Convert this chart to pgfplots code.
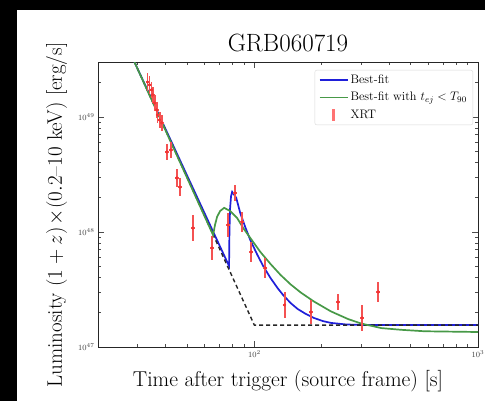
\RequirePackage{fix-cm}
\documentclass[border=0pt]{standalone}
\usepackage{pgfplots}
\usepackage{pgfplotstable}
\pgfplotsset{compat=1.18}
\definecolor{mblue}{rgb}{0.12,0.12,0.85}
\definecolor{mgreen}{rgb}{0.28,0.6,0.28}
\definecolor{mred}{rgb}{0.95,0.2,0.2}

\pgfplotstableread{
t      L      ep     em
33.3   201    39.8   33.2
34.0   190    37.6   31.4
34.7   172    29.9   25.5
35.1   155    27.0   22.9
35.8   132    23.0   19.5
36.6   115    20.0   17.0
36.9   104    18.1   15.4
37.7   94     16.4   13.9
38.5   89     15.5   13.2
40.6   49.6   8.6    7.3
42.3   51.6   9.0    7.6
45.0   29.5   5.8    4.9
46.5   24.6   4.9    4.1
53.1   10.8   3.2    2.5
64.7   7.26   1.97   1.55
76.4   11.5   3.1    2.5
82.1   21.8   3.8    3.2
88.3   12.2   2.7    2.2
96.9   6.70   1.49   1.22
112.1  4.86   1.08   0.88
136.5  2.32   0.69   0.53
178.8  2.01   0.55   0.43
236.5  2.46   0.43   0.36
303.4  1.79   0.53   0.41
358.2  3.01   0.67   0.55
}\xrt

\begin{document}
\begin{tikzpicture}
\useasboundingbox (0pt,0pt) rectangle (485pt,401pt);
\fill[black] (0pt,0pt) rectangle (485pt,401pt);
\fill[white] (17pt,0pt) rectangle (485pt,391pt);
\begin{axis}[
  at={(98pt,54pt)}, anchor=south west,
  width=380pt, height=285pt, scale only axis,
  xmode=log, ymode=log,
  xmin=20, xmax=1000, ymin=1, ymax=300,
  xtick={100,1000}, xticklabels={$10^{2}$,$10^{3}$},
  ytick={1,10,100}, yticklabels={$10^{47}$,$10^{48}$,$10^{49}$},
  minor xtick={30,40,50,60,70,80,90,200,300,400,500,600,700,800,900},
  minor ytick={2,3,4,5,6,7,8,9,20,30,40,50,60,70,80,90,200,300},
  tick label style={font=\fontsize{8}{9}\selectfont, text=black!75},
  major tick length=6pt, minor tick length=3pt,
  every tick/.style={black!70, line width=0.6pt},
  axis line style={black!85, line width=0.8pt},
  title={GRB060719},
  title style={font=\fontsize{25}{28}\selectfont, at={(axis description cs:0.5,1)}, anchor=base, yshift=5pt},
  xlabel={Time after trigger (source frame) [s]},
  xlabel style={font=\fontsize{21.5}{24}\selectfont, at={(axis description cs:0.5,0)}, anchor=base, yshift=-40pt},
  ylabel={Luminosity $(1+z)\!\times\!(0.2$--$10$ keV$)$ [erg/s]},
  ylabel style={font=\fontsize{21}{24}\selectfont, at={(axis description cs:-0.095,0.463)}, anchor=base},
  legend style={at={(axis description cs:0.987,0.972)}, anchor=north east,
    font=\fontsize{12.3}{14}\selectfont, draw=black!15, rounded corners=2pt,
    fill=white, inner xsep=4pt, inner ysep=3pt, row sep=3pt},
  legend cell align=left,
]
\addplot[mblue, line width=1.7pt,
  legend image code/.code={\draw[mblue,line width=1.7pt] (0pt,0pt)--(28pt,0pt);}]
  coordinates {(29.1,300) (77.1,5.06) (77.4,10) (77.9,16) (78.7,20.5) (79.6,22.3)
  (83.0,19.8) (86.5,14.6) (91.1,11.0) (95.9,8.51) (103.2,6.31) (109.8,5.01)
  (118.1,3.98) (126.9,3.26) (135.1,2.80) (145.3,2.41) (156.2,2.14) (169.7,1.94)
  (184.4,1.79) (202.5,1.68) (219.9,1.62) (257.0,1.57) (300,1.555) (1000,1.555)};
\addlegendentry{Best-fit}
\addplot[black!85, line width=1.4pt, dash pattern=on 4pt off 3pt, forget plot]
  coordinates {(29.1,300) (100,1.55) (1000,1.55)};
\addplot[mgreen, line width=1.7pt,
  legend image code/.code={\draw[mgreen,line width=1.7pt] (0pt,0pt)--(28pt,0pt);}]
  coordinates {(29.1,300) (65.4,9.4) (66.7,11.5) (68.1,13.5) (70.3,15.2) (73.3,16.2)
  (78.0,15.2) (83.8,13.2) (89.2,10.8) (95.9,8.87) (106.4,6.70) (118.1,5.27)
  (131.0,4.23) (145.3,3.50) (161.1,2.98) (184.4,2.49) (219.9,2.04) (262.4,1.75)
  (300.3,1.60) (369.5,1.46) (454.7,1.41) (577,1.37) (1000,1.35)};
\addlegendentry{Best-fit with $t_{ej} < T_{90}$}
\addplot[only marks, mark=*, mark size=1.4pt, color=mred,
  error bars/.cd, y dir=both, y explicit, x dir=both, x fixed relative=0.02,
  error bar style={mred!85, line width=1.9pt}, error mark=none,
  /pgfplots/.cd,
  legend image code/.code={\draw[red!55,line width=2.4pt] (14pt,-6pt)--(14pt,6pt);}]
  table[x=t, y=L, y error plus=ep, y error minus=em] {\xrt};
\addlegendentry{XRT}
\end{axis}
\end{tikzpicture}
\end{document}
